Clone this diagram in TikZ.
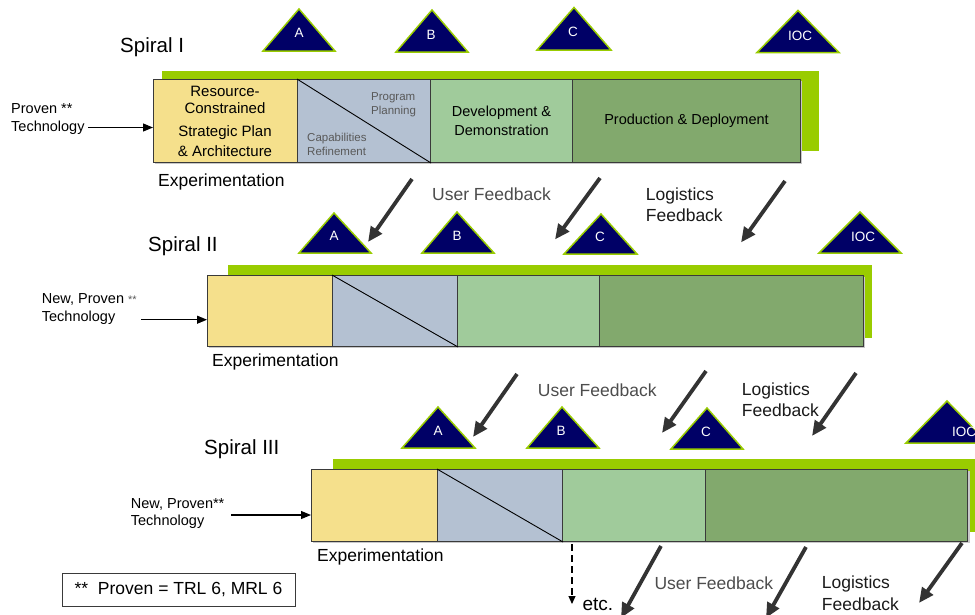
\documentclass[tikz,border=0pt]{standalone}
\usepackage{fontspec}
\setmainfont{Liberation Sans}
\usetikzlibrary{arrows.meta,calc}

\definecolor{bandgreen}{HTML}{99CC00}
\definecolor{msnavy}{HTML}{000066}
\definecolor{ylw}{HTML}{F5E08C}
\definecolor{blu}{HTML}{B4C1D2}
\definecolor{lgr}{HTML}{A0CB9B}
\definecolor{dgr}{HTML}{82A96D}
\definecolor{boxline}{HTML}{3A3A3A}
\definecolor{arrowgray}{HTML}{333333}
\definecolor{fbgray}{HTML}{4D4D4D}
\definecolor{logblack}{HTML}{1A1A1A}
\definecolor{smallgray}{HTML}{595959}
\definecolor{shadowgray}{HTML}{C8C8C8}

% milestone triangle: name, apex x, apex y, base left x, base right x, base y, label x, label y, text
\newcommand\milestone[9]{%
  \path[msshape] (#2,#3) -- (#5,#6) -- (#4,#6) -- cycle;
  \node[mslabel] (#1) at (#7,#8) {#9};
}

\tikzset{
  stage/.style={draw=boxline, line width=1pt, inner sep=0pt, anchor=north west},
  band/.style={fill=bandgreen},
  shade/.style={fill=shadowgray},
  diag/.style={draw=black, line width=0.9pt},
  title/.style={inner sep=0pt, anchor=base west, font=\fontsize{20.5}{24}\selectfont},
  exper/.style={inner sep=0pt, anchor=base west, font=\fontsize{17.5}{20}\selectfont},
  fbtext/.style={inner sep=0pt, anchor=base west, text=fbgray, font=\fontsize{17.5}{20}\selectfont},
  logtext/.style={inner sep=0pt, align=left, text=logblack, anchor=south west, text depth=0pt,
    font=\fontsize{17.5}{21.5}\selectfont},
  techtext/.style={inner sep=0pt, align=left, anchor=south west, text depth=0pt,
    font=\fontsize{14.5}{18.5}\selectfont},
  boxtext/.style={inner sep=0pt, align=center, font=\fontsize{14.5}{19}\selectfont},
  smalltext/.style={inner sep=0pt, align=left, text=smallgray, anchor=south west, text depth=0pt,
    font=\fontsize{11.5}{14}\selectfont},
  mslabel/.style={inner sep=0pt, text=white, font=\fontsize{13.5}{16}\selectfont},
  msshape/.style={fill=msnavy, draw=bandgreen, line width=1.5pt},
  fbarrow/.style={draw=arrowgray, line width=3.8pt, -{Triangle[length=15pt,width=13pt]}},
  techarrow/.style={draw=black, line width=1.1pt, -{Triangle[length=10pt,width=8pt]}},
  dasharrow/.style={draw=black, line width=1.1pt, dash pattern=on 7pt off 4pt,
    -{Triangle[length=8pt,width=7pt]}},
}

\begin{document}
\begin{tikzpicture}[x=1pt,y=-1pt]
\clip (0,0) rectangle (975,614);
\fill[white] (0,0) rectangle (975,614);

% ---------------- Spiral I ----------------
\node[title] (t1) at (120,52.5) {Spiral I};
\milestone{m1a}{299}{9}{263}{335}{51}{299}{33}{A}
\milestone{m1b}{432}{10}{396}{468}{52}{431}{35}{B}
\milestone{m1c}{574}{7.5}{537}{611}{50}{573}{32}{C}
\milestone{m1ioc}{798}{10.5}{757}{839}{52.5}{800}{36}{IOC}

\fill[band] (162,71) rectangle (818.5,150.5);
\fill[shade] (155,81) rectangle (802,164);
\node[stage, fill=ylw, minimum width=144pt, minimum height=83pt] (s1a) at (153,79) {};
\node[stage, fill=blu, minimum width=133pt, minimum height=83pt] (s1b) at (297,79) {};
\node[stage, fill=lgr, minimum width=142pt, minimum height=83pt] (s1c) at (430,79) {};
\node[stage, fill=dgr, minimum width=228pt, minimum height=83pt] (s1d) at (572,79) {};
\draw[diag] (s1b.north west) -- (s1b.south east);

\node[boxtext, anchor=south, text depth=0pt, font=\fontsize{15}{17}\selectfont] (s1atext) at (225,157)
  {Resource-\\Constrained\\[6pt]Strategic Plan\\[3pt]\& Architecture};
\node[smalltext] (s1prog) at (371,115) {Program\\Planning};
\node[smalltext] (s1cap) at (307,156) {Capabilities\\Refinement};
\node[boxtext] (s1ctext) at (s1c.center) {Development \&\\Demonstration};
\node[boxtext] (s1dtext) at (s1d.center) {Production \& Deployment};

\node[exper] (e1) at (158,186) {Experimentation};
\node[techtext] (tech1) at (11,131.7) {Proven **\\Technology};
\coordinate (tech1end) at (88,127.5);
\draw[techarrow] (tech1end) -- (s1a.west |- tech1end);

% feedback into Spiral II
\coordinate (f1a) at (412,179);   \coordinate (f1at) at (368,242);
\coordinate (f1b) at (600,178);   \coordinate (f1bt) at (555,239.5);
\coordinate (f1c) at (785,181);   \coordinate (f1ct) at (741,242.5);
\draw[fbarrow] (f1a) -- (f1at);
\draw[fbarrow] (f1b) -- (f1bt);
\draw[fbarrow] (f1c) -- (f1ct);
\node[fbtext] (uf1) at (432,200.7) {User Feedback};
\node[logtext] (lf1) at (645.7,221.7) {Logistics\\Feedback};

% ---------------- Spiral II ----------------
\node[title] (t2) at (148,251.7) {Spiral II};
\milestone{m2a}{334}{213}{299}{371}{253}{334}{236}{A}
\milestone{m2b}{457}{212}{422}{494}{253}{457}{236}{B}
\milestone{m2c}{601}{214}{564}{637}{254}{600}{236.5}{C}
\milestone{m2ioc}{860}{212}{819}{901}{253}{863}{236.5}{IOC}

\fill[band] (228,265) rectangle (872,338);
\fill[shade] (209,277) rectangle (865,348);
\node[stage, fill=ylw, minimum width=125pt, minimum height=71pt] (s2a) at (207,275) {};
\node[stage, fill=blu, minimum width=125pt, minimum height=71pt] (s2b) at (332,275) {};
\node[stage, fill=lgr, minimum width=142pt, minimum height=71pt] (s2c) at (457,275) {};
\node[stage, fill=dgr, minimum width=264pt, minimum height=71pt] (s2d) at (599,275) {};
\draw[diag] (s2b.north west) -- (s2b.south east);

\node[exper] (e2) at (212,366) {Experimentation};
\node[techtext] (tech2) at (41.7,321.7)
  {New, Proven {\color{smallgray}\fontsize{11}{12}\selectfont **}\\Technology};
\coordinate (tech2end) at (141,319.7);
\draw[techarrow] (tech2end) -- (s2a.west |- tech2end);

% feedback into Spiral III
\coordinate (f2a) at (517,374);   \coordinate (f2at) at (473,437);
\coordinate (f2b) at (706,371);   \coordinate (f2bt) at (662,433);
\coordinate (f2c) at (856,373);   \coordinate (f2ct) at (812,436);
\draw[fbarrow] (f2a) -- (f2at);
\draw[fbarrow] (f2b) -- (f2bt);
\draw[fbarrow] (f2c) -- (f2ct);
\node[fbtext] (uf2) at (537.7,396) {User Feedback};
\node[logtext] (lf2) at (741.7,416.7) {Logistics\\Feedback};

% ---------------- Spiral III ----------------
\node[title] (t3) at (204,454) {Spiral III};
\milestone{m3a}{438}{407}{402}{475}{448}{438}{430.5}{A}
\milestone{m3b}{562}{407}{527}{599}{448}{561}{430.5}{B}
\milestone{m3c}{707}{408}{671}{743}{449}{706}{431.5}{C}
\milestone{m3ioc}{947}{401}{906}{988}{443}{964}{431.5}{IOC}

\fill[band] (333,459) rectangle (990,532);
\fill[shade] (313,471) rectangle (969.5,543);
\node[stage, fill=ylw, minimum width=126pt, minimum height=72pt] (s3a) at (311,469) {};
\node[stage, fill=blu, minimum width=125pt, minimum height=72pt] (s3b) at (437,469) {};
\node[stage, fill=lgr, minimum width=143pt, minimum height=72pt] (s3c) at (562,469) {};
\node[stage, fill=dgr, minimum width=262pt, minimum height=72pt] (s3d) at (705,469) {};
\draw[diag] (s3b.north west) -- (s3b.south east);

\node[exper] (e3) at (317,561) {Experimentation};
\node[techtext, font=\fontsize{14.5}{17.5}\selectfont] (tech3) at (130.7,525.7) {New, Proven**\\Technology};
\coordinate (tech3end) at (231,515);
\draw[techarrow] (tech3end) -- (s3a.west |- tech3end);

% continuation
\coordinate (etcstart) at ($(s3c.south west)+(10,2)$);
\coordinate (etcend) at (572,604);
\draw[dasharrow] (etcstart) -- (etcend);
\node[inner sep=0pt, anchor=base west, font=\fontsize{19}{22}\selectfont] (etc) at (582.3,610.5) {etc.};

% feedback out of Spiral III
\coordinate (f3a) at (661,546);   \coordinate (f3at) at (621,618);
\coordinate (f3b) at (806,547);   \coordinate (f3bt) at (766,618);
\coordinate (f3c) at (962,543);   \coordinate (f3ct) at (919,603);
\draw[fbarrow] (f3a) -- (f3at);
\draw[fbarrow] (f3b) -- (f3bt);
\draw[fbarrow] (f3c) -- (f3ct);
\node[fbtext] (uf3) at (654.3,589.3) {User Feedback};
\node[logtext] (lf3) at (821.7,610.5) {Logistics\\Feedback};

% footnote
\node[draw=boxline, line width=1pt, inner sep=0pt, minimum width=233pt, minimum height=33pt,
  font=\fontsize{17.5}{20}\selectfont] (note) at (178.5,589.5) {**~~Proven = TRL 6, MRL 6};
\end{tikzpicture}
\end{document}
